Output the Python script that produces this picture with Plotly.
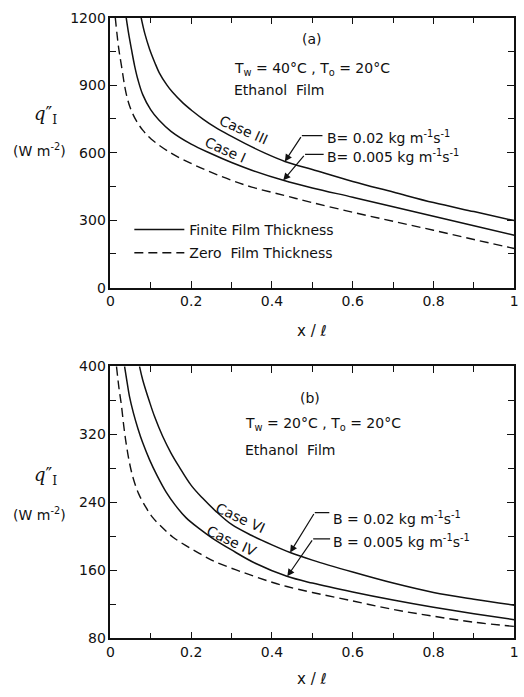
import plotly.graph_objects as go

# ---------------- data ----------------
# Panel (a): Tw = 40 C, To = 20 C
a_case3_x = [0.076, 0.085, 0.097, 0.11, 0.121, 0.14, 0.154, 0.18, 0.203, 0.23, 0.26, 0.3, 0.334, 0.38, 0.432, 0.5, 0.6, 0.7, 0.8, 0.9, 1.0]
a_case3_y = [1200, 1130, 1060, 1000, 955, 900, 868, 820, 785, 748, 712, 672, 640, 600, 561, 525, 472, 425, 378, 338, 298]
a_case1_x = [0.039, 0.045, 0.052, 0.06, 0.068, 0.08, 0.1, 0.12, 0.15, 0.2, 0.25, 0.3, 0.35, 0.428, 0.5, 0.6, 0.7, 0.8, 0.9, 1.0]
a_case1_y = [1200, 1130, 1060, 985, 925, 858, 790, 745, 695, 638, 595, 556, 522, 477, 443, 402, 360, 317, 275, 233]
a_zero_x = [0.012, 0.02, 0.027, 0.039, 0.05, 0.064, 0.08, 0.1, 0.15, 0.2, 0.25, 0.3, 0.35, 0.43, 0.5, 0.6, 0.7, 0.8, 0.9, 1.0]
a_zero_y = [1200, 1070, 990, 862, 795, 742, 700, 662, 598, 552, 512, 477, 447, 410, 378, 335, 295, 255, 214, 174]

# Panel (b): Tw = 20 C, To = 20 C
b_case6_x = [0.072, 0.08, 0.097, 0.11, 0.129, 0.15, 0.17, 0.2, 0.228, 0.26, 0.3, 0.35, 0.4, 0.445, 0.5, 0.6, 0.7, 0.8, 0.9, 1.0]
b_case6_y = [400, 384, 358, 340, 318, 298, 282, 260, 245, 230, 214, 201, 190, 181, 172, 158, 145, 134, 126, 119]
b_case4_x = [0.035, 0.041, 0.047, 0.057, 0.068, 0.08, 0.097, 0.115, 0.138, 0.16, 0.187, 0.22, 0.252, 0.3, 0.36, 0.437, 0.5, 0.6, 0.7, 0.8, 0.9, 1.0]
b_case4_y = [400, 382, 365, 345, 327, 310, 290, 272, 252, 237, 222, 209, 198, 184, 168, 153, 145, 134.5, 125, 116.5, 109, 102]
b_zero_x = [0.015, 0.021, 0.027, 0.033, 0.039, 0.047, 0.056, 0.07, 0.088, 0.105, 0.129, 0.155, 0.187, 0.22, 0.26, 0.326, 0.4, 0.437, 0.5, 0.6, 0.7, 0.8, 0.9, 1.0]
b_zero_y = [400, 375, 355, 330, 309, 287, 269, 250, 234, 222, 210, 199, 189, 180, 170, 158, 146, 141, 134, 124, 114, 106, 99, 94]

x_ticks = [0, 0.2, 0.4, 0.6, 0.8, 1]
x_ticklabels = ["0", "0.2", "0.4", "0.6", "0.8", "1"]
a_yticks = [0, 300, 600, 900, 1200]
b_yticks = [80, 160, 240, 320, 400]

FONT = "DejaVu Sans"
BLACK = "#111111"

W, H = 524, 697


# map a wanted on-screen pixel position to figure paper coordinates
def px(p):
    return ((p - 2.0) / 0.99) / W


def py(p):
    return 1 - ((p - 5.3) / 0.9807) / H


fig = go.Figure()
solid = dict(color=BLACK, width=1.5)
dashed = dict(color=BLACK, width=1.4, dash="9px,5px")

fig.add_trace(go.Scatter(x=a_case3_x, y=a_case3_y, mode="lines", line=dict(**solid, shape="spline"),
                         name="Finite Film Thickness", legendgroup="f", showlegend=True, xaxis="x", yaxis="y"))
fig.add_trace(go.Scatter(x=a_case1_x, y=a_case1_y, mode="lines", line=dict(**solid, shape="spline"),
                         name="Finite Film Thickness", legendgroup="f", showlegend=False, xaxis="x", yaxis="y"))
fig.add_trace(go.Scatter(x=a_zero_x, y=a_zero_y, mode="lines", line=dict(**dashed, shape="spline"),
                         name="Zero  Film Thickness", legendgroup="z", showlegend=True, xaxis="x", yaxis="y"))
fig.add_trace(go.Scatter(x=b_case6_x, y=b_case6_y, mode="lines", line=dict(**solid, shape="spline"),
                         showlegend=False, xaxis="x2", yaxis="y2"))
fig.add_trace(go.Scatter(x=b_case4_x, y=b_case4_y, mode="lines", line=dict(**solid, shape="spline"),
                         showlegend=False, xaxis="x2", yaxis="y2"))
fig.add_trace(go.Scatter(x=b_zero_x, y=b_zero_y, mode="lines", line=dict(**dashed, shape="spline"),
                         showlegend=False, xaxis="x2", yaxis="y2"))

xdom = [px(109), min(px(515), 0.993)]
ydom_a = [py(286), py(15)]
ydom_b = [py(638), py(365)]

axcommon = dict(showline=True, linecolor=BLACK, linewidth=1.6, mirror="ticks", ticks="inside",
                ticklen=7, tickwidth=1.3, tickcolor=BLACK, showgrid=False, zeroline=False,
                ticklabeloverflow="allow",
                tickfont=dict(family=FONT, size=14, color=BLACK))

fig.update_layout(
    width=W, height=H, margin=dict(l=0, r=0, t=0, b=0),
    paper_bgcolor="white", plot_bgcolor="white",
    font=dict(family=FONT, color=BLACK),
    xaxis=dict(domain=xdom, anchor="y", range=[0, 1], tickvals=x_ticks, ticktext=x_ticklabels,
               minor=dict(dtick=0.1, ticks="inside", ticklen=6, tickcolor=BLACK), **axcommon),
    yaxis=dict(domain=ydom_a, anchor="x", range=[0, 1200], tickvals=a_yticks,
               minor=dict(dtick=150, ticks="inside", ticklen=6, tickcolor=BLACK), **axcommon),
    xaxis2=dict(domain=xdom, anchor="y2", range=[0, 1], tickvals=x_ticks, ticktext=x_ticklabels,
                minor=dict(dtick=0.1, ticks="inside", ticklen=6, tickcolor=BLACK), **axcommon),
    yaxis2=dict(domain=ydom_b, anchor="x2", range=[80, 400], tickvals=b_yticks,
                minor=dict(dtick=40, ticks="inside", ticklen=6, tickcolor=BLACK), **axcommon),
    legend=dict(x=px(128), y=py(212), xanchor="left", yanchor="top", bgcolor="rgba(0,0,0,0)",
                font=dict(family=FONT, size=14, color=BLACK), itemwidth=50, tracegroupgap=2),
    showlegend=True,
)

ann = []


def txt(x, y, s, xref="x", yref="y", size=14, xanchor="center", angle=0):
    ann.append(dict(x=x, y=y, xref=xref, yref=yref, text=s, showarrow=False, xanchor=xanchor,
                    yanchor="middle", textangle=angle, font=dict(family=FONT, size=size, color=BLACK)))


# panel (a)
txt(0.50, 1103, "(a)")
txt(0.30, 974, "T<sub>w</sub> = 40°C , T<sub>o</sub> = 20°C", xanchor="left")
txt(0.30, 877, "Ethanol  Film", xanchor="left")
txt(0.33, 700, "Case III", angle=24)
txt(0.285, 612, "Case I", angle=24)
txt(0.531, 668, "B= 0.02 kg m<sup>-1</sup>s<sup>-1</sup>", xanchor="left")
txt(0.531, 584, "B= 0.005 kg m<sup>-1</sup>s<sup>-1</sup>", xanchor="left")
# panel (b)
txt(0.494, 363, "(b)", xref="x2", yref="y2")
txt(0.329, 332, "T<sub>w</sub> = 20°C , T<sub>o</sub> = 20°C", xref="x2", yref="y2", xanchor="left")
txt(0.329, 302, "Ethanol  Film", xref="x2", yref="y2", xanchor="left")
txt(0.322, 221, "Case VI", xref="x2", yref="y2", angle=25)
txt(0.300, 194, "Case IV", xref="x2", yref="y2", angle=25)
txt(0.547, 221, "B = 0.02 kg m<sup>-1</sup>s<sup>-1</sup>", xref="x2", yref="y2", xanchor="left")
txt(0.547, 195, "B = 0.005 kg m<sup>-1</sup>s<sup>-1</sup>", xref="x2", yref="y2", xanchor="left")

# axis titles (bottom title kept inside the figure)
for ycen_q, ycen_u, yx in [(113, 148, 330), (475, 513, 679)]:
    ann.append(dict(x=px(44), y=py(ycen_q), xref="paper", yref="paper", showarrow=False,
                    xanchor="center", yanchor="middle",
                    text="<i>q</i>″<sub>I</sub>", font=dict(family="DejaVu Serif", size=18, color=BLACK)))
    ann.append(dict(x=px(38), y=py(ycen_u), xref="paper", yref="paper", showarrow=False,
                    xanchor="center", yanchor="middle",
                    text="(W m<sup>-2</sup>)", font=dict(family=FONT, size=14, color=BLACK)))
    ann.append(dict(x=px(312), y=py(yx), xref="paper", yref="paper", showarrow=False,
                    xanchor="center", yanchor="middle",
                    text="x / <i>ℓ</i>", font=dict(family=FONT, size=15, color=BLACK)))

# leader arrows (tip, kink) and horizontal end
leaders = [
    ("x", "y", (0.432, 561), (0.474, 676), 0.525),
    ("x", "y", (0.428, 477), (0.482, 592), 0.528),
    ("x2", "y2", (0.445, 181), (0.506, 228), 0.542),
    ("x2", "y2", (0.438, 153), (0.502, 197), 0.544),
]
shapes = []
for xr, yr, tip, kink, xend in leaders:
    ann.append(dict(x=tip[0], y=tip[1], ax=kink[0], ay=kink[1], xref=xr, yref=yr, axref=xr, ayref=yr,
                    text="", showarrow=True, arrowhead=2, arrowsize=1.2, arrowwidth=1.2, arrowcolor=BLACK))
    shapes.append(dict(type="line", xref=xr, yref=yr, x0=kink[0], y0=kink[1], x1=xend, y1=kink[1],
                       line=dict(color=BLACK, width=1.2)))

fig.update_layout(annotations=ann, shapes=shapes)
fig.write_html("out.html", config={"displayModeBar": False},
               post_script="document.body.style.margin='0px';document.body.style.overflow='hidden';")
